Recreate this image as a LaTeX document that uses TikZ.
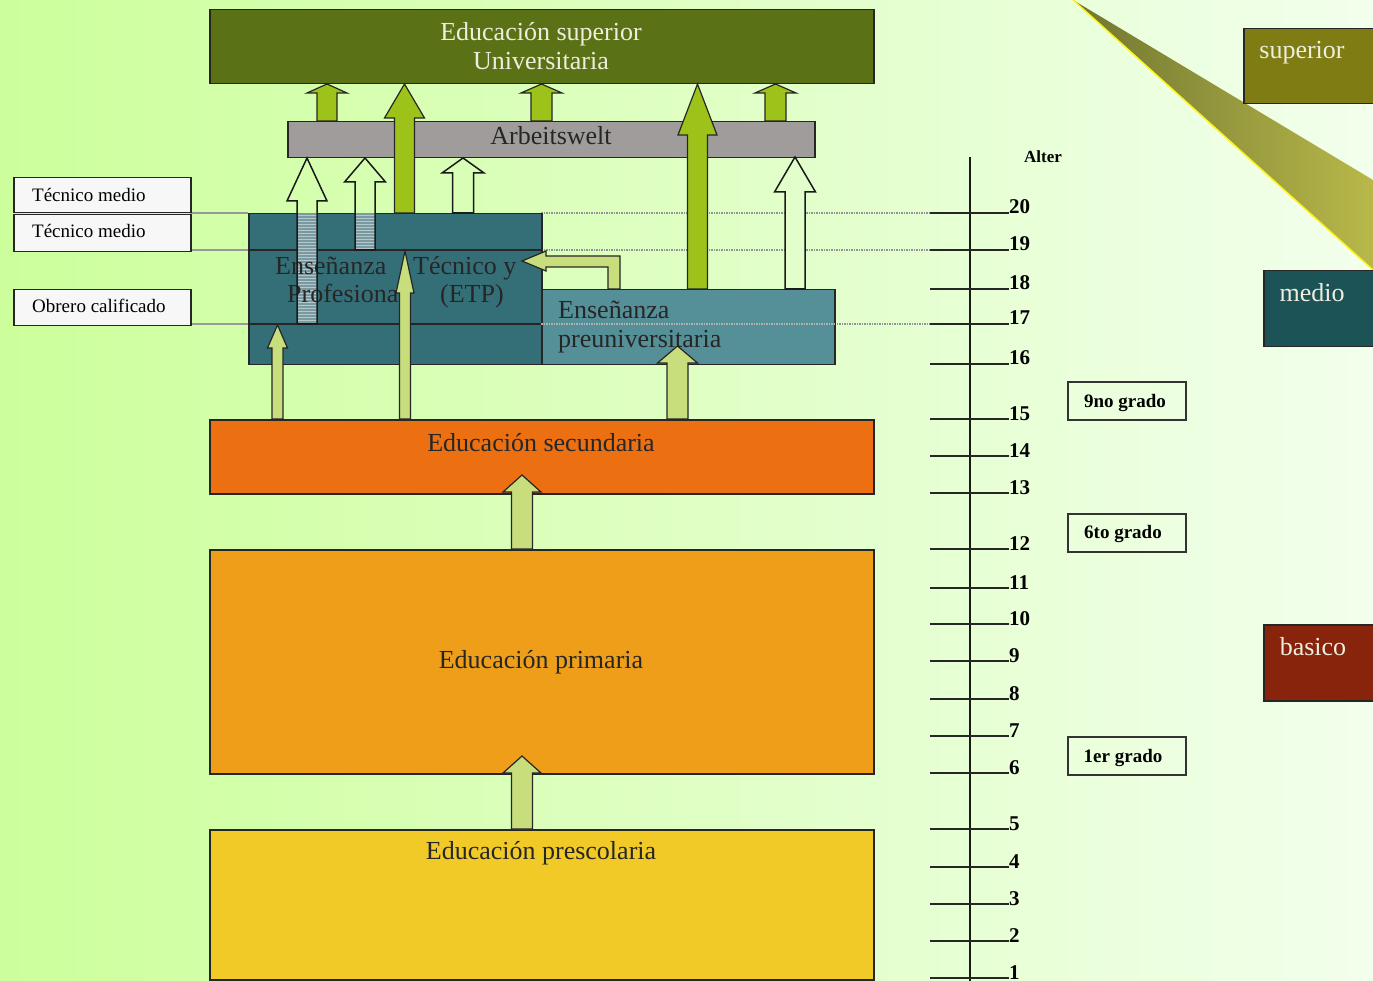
\documentclass[tikz,border=0pt]{standalone}
\usepackage{fontspec}
\setmainfont{Liberation Serif}
\definecolor{bgL}{RGB}{204,255,155}
\definecolor{bgR}{RGB}{242,255,236}
\definecolor{bgmid}{RGB}{226,255,203}
\definecolor{csup}{RGB}{90,114,21}
\definecolor{carb}{RGB}{161,156,156}
\definecolor{cgreen}{RGB}{157,195,27}
\definecolor{clight}{RGB}{200,222,125}
\definecolor{cetp}{RGB}{52,111,120}
\definecolor{cpre}{RGB}{85,143,151}
\definecolor{csec}{RGB}{236,112,18}
\definecolor{cprim}{RGB}{239,158,25}
\definecolor{cpres}{RGB}{241,202,40}
\definecolor{crsup}{RGB}{127,124,19}
\definecolor{crmed}{RGB}{28,83,86}
\definecolor{crbas}{RGB}{136,36,12}
\definecolor{ctxt}{RGB}{238,238,222}
\definecolor{cstripe}{RGB}{122,154,162}
\definecolor{wedgeL}{RGB}{112,118,48}
\definecolor{wedgeR}{RGB}{184,184,74}
\newcommand{\uparr}[7][]{\draw[#1] ({#2-#7},#5) -- ({#2-#7},#4) -- ({#2-#6},#4) -- (#2,#3) -- ({#2+#6},#4) -- ({#2+#7},#4) -- ({#2+#7},#5) -- cycle;}
\begin{document}
\begin{tikzpicture}[x=1pt,y=-1pt,
  box/.style={draw=black!85, line width=1.5pt, inner sep=0pt, anchor=north west},
  bigtxt/.style={font=\fontsize{26}{29}\selectfont, inner sep=0pt, anchor=base},
  lbltxt/.style={font=\fontsize{19}{22}\selectfont, inner sep=0pt, anchor=base west},
  numtxt/.style={font=\bfseries\fontsize{21}{24}\selectfont, inner sep=0pt, anchor=base west},
  gradetxt/.style={font=\bfseries\fontsize{19}{22}\selectfont, inner sep=0pt, anchor=base},
  greenarr/.style={fill=cgreen, draw=black!85, line width=1.2pt},
  lightarr/.style={fill=clight, draw=black!85, line width=1.2pt},
  hollow/.style={draw=black!90, line width=1.5pt},
  tickline/.style={draw=black!85, line width=1.6pt},
  gridline/.style={draw=gray!85, densely dotted, line width=1.5pt},
  leftline/.style={draw=gray!80, line width=1.5pt},
  lblbox/.style={box, fill=white!94!gray, minimum width=177pt},
  gradebox/.style={box, draw=black!80, minimum width=118pt, minimum height=38pt}
]
\useasboundingbox (0,0) rectangle (1373,981);
\clip (0,0) rectangle (1373,981);
% background
\shade[left color=bgL, right color=bgR] (0,0) rectangle (1373,981);
% wedge
\shade[left color=wedgeL, right color=wedgeR] (1073,0) -- (1373,180) -- (1373,270) -- cycle;
\draw[yellow!90!white, line width=1.5pt] (1073,0) -- (1373,270);

% grid lines
\draw[gridline] (541,213) -- (930,213);
\draw[gridline] (541,250) -- (930,250);
\draw[gridline] (834,324) -- (930,324);
\draw[leftline] (190,213) -- (248,213);
\draw[leftline] (190,250) -- (248,250);
\draw[leftline] (190,324) -- (248,324);

% Educacion superior
\node[box, fill=csup, minimum width=664pt, minimum height=74pt] (sup) at (209,9) {};
\node[bigtxt, text=ctxt] (supt1) at (541,41) {Educación superior};
\node[bigtxt, text=ctxt] (supt2) at (541,70) {Universitaria};

% Arbeitswelt
\node[box, fill=carb, minimum width=527pt, minimum height=36pt] (arb) at (287,121) {};
\node[bigtxt, text=black!85] (arbt) at (551,145) {Arbeitswelt};

% small green arrows
\uparr[greenarr]{327}{84}{93}{121}{20}{10}
\uparr[greenarr]{541.5}{84}{93}{121}{20.5}{10.5}
\uparr[greenarr]{775.5}{84}{93}{121}{20.5}{10.5}

% ETP box
\node[box, fill=cetp, minimum width=293pt, minimum height=151pt] (etp) at (248,213) {};
\draw[black!85, line width=1.2pt] (248,250) -- (541,250);
\draw[black!85, line width=1.2pt] (248,324) -- (541,324);
% striped shafts
\fill[cstripe] (297,213) rectangle (317,324);
\fill[cstripe] (355,213) rectangle (375,250);
\foreach \yy in {215,218,...,322} {\draw[white, opacity=0.45, line width=0.7pt] (297,\yy) -- (317,\yy);}
\foreach \yy in {215,218,...,248} {\draw[white, opacity=0.45, line width=0.7pt] (355,\yy) -- (375,\yy);}
\node[bigtxt, anchor=base west, text=black!85] (etp1a) at (275,275) {Enseñanza};
\node[bigtxt, anchor=base west, text=black!85] (etp1b) at (413,275) {Técnico y};
\node[bigtxt, anchor=base west, text=black!85] (etp2a) at (287,303) {Profesional};
\node[bigtxt, anchor=base west, text=black!85] (etp2b) at (440,303) {(ETP)};

% preuniversitaria box
\node[box, fill=cpre, minimum width=293pt, minimum height=75pt] (pre) at (541,289) {};
\draw[gridline, gray!60] (541,324) -- (834,324);

% hollow arrows
\uparr[hollow]{307}{158}{201}{324}{20}{10}
\uparr[hollow]{365}{158}{182}{250}{20.5}{10}
\uparr[hollow]{463}{158}{173}{213}{21}{10.5}
\uparr[hollow, fill=bgmid]{795}{157}{192}{289}{20.5}{10}

% big green arrows
\uparr[greenarr]{404.5}{84}{118}{213}{20}{10}
\uparr[greenarr]{697.5}{84}{135}{289}{19.5}{10}

% light arrows into ETP / preuniversitaria
\draw[lightarr] (608,289) -- (608,267) -- (546,267) -- (546,271) -- (522,261) -- (546,251) -- (546,256) -- (620,256) -- (620,289) -- cycle;
\uparr[lightarr]{277.5}{325}{348}{419}{10}{5.5}
\uparr[lightarr]{405}{251}{293}{419}{9}{5.5}
\uparr[lightarr]{677.5}{346}{363}{419}{20}{10.5}

\node[bigtxt, anchor=base west, text=black!85] (pre1) at (558,319) {Enseñanza};
\node[bigtxt, anchor=base west, text=black!85] (pre2) at (558,348) {preuniversitaria};

% lower boxes
\node[box, fill=csec, minimum width=664pt, minimum height=74pt] (sec) at (209,419) {};
\node[bigtxt, text=black!85] (sect) at (541,451) {Educación secundaria};
\node[box, fill=cprim, minimum width=664pt, minimum height=224pt] (prim) at (209,549) {};
\node[bigtxt, text=black!85] (primt) at (541,668) {Educación primaria};
\node[box, fill=cpres, minimum width=664pt, minimum height=150pt] (pres) at (209,829) {};
\node[bigtxt, text=black!85] (prest) at (541,859) {Educación prescolaria};
\uparr[lightarr]{522}{475}{492}{549}{19}{10.5}
\uparr[lightarr]{522}{756}{773}{829}{19}{10.5}

% left label boxes
\node[lblbox, minimum height=35pt] (lb1) at (13,177) {};
\node[lbltxt] (lb1t) at (32,202) {Técnico medio};
\node[lblbox, minimum height=37pt] (lb2) at (13,214) {};
\node[lbltxt] (lb2t) at (32,238) {Técnico medio};
\node[lblbox, minimum height=36pt] (lb3) at (13,289) {};
\node[lbltxt] (lb3t) at (32,313) {Obrero calificado};

% age axis
\draw[black!90, line width=1.8pt] (970,157) -- (970,981);
\node[font=\bfseries\fontsize{17}{20}\selectfont, inner sep=0pt, anchor=base west] (alter) at (1024,163) {Alter};
\foreach \a/\yy in {20/213,19/250,18/289,17/324,16/364,15/419,14/456,13/493,12/549,11/588,10/624,9/661,8/699,7/736,6/773,5/829,4/867,3/904,2/941,1/978}{
  \draw[tickline] (930,\yy) -- (1009,\yy);
  \node[numtxt] (age\a) at (1009,{\yy+1}) {\a};
}

% grade boxes
\node[gradebox] (g9) at (1067,381) {};
\node[gradetxt] (g9t) at (1125,407) {9no grado};
\node[gradebox] (g6) at (1067,513) {};
\node[gradetxt] (g6t) at (1123,538) {6to grado};
\node[gradebox] (g1) at (1067,736) {};
\node[gradetxt] (g1t) at (1123,762) {1er grado};

% right level boxes
\node[box, fill=crsup, minimum width=150pt, minimum height=75pt] (rsup) at (1243,28) {};
\node[bigtxt, text=ctxt] (rsupt) at (1302,59) {superior};
\node[box, fill=crmed, minimum width=130pt, minimum height=76pt] (rmed) at (1263,270) {};
\node[bigtxt, text=ctxt] (rmedt) at (1312,302) {medio};
\node[box, fill=crbas, minimum width=130pt, minimum height=76pt] (rbas) at (1263,624) {};
\node[bigtxt, text=ctxt] (rbast) at (1313,655) {basico};
\end{tikzpicture}
\end{document}
